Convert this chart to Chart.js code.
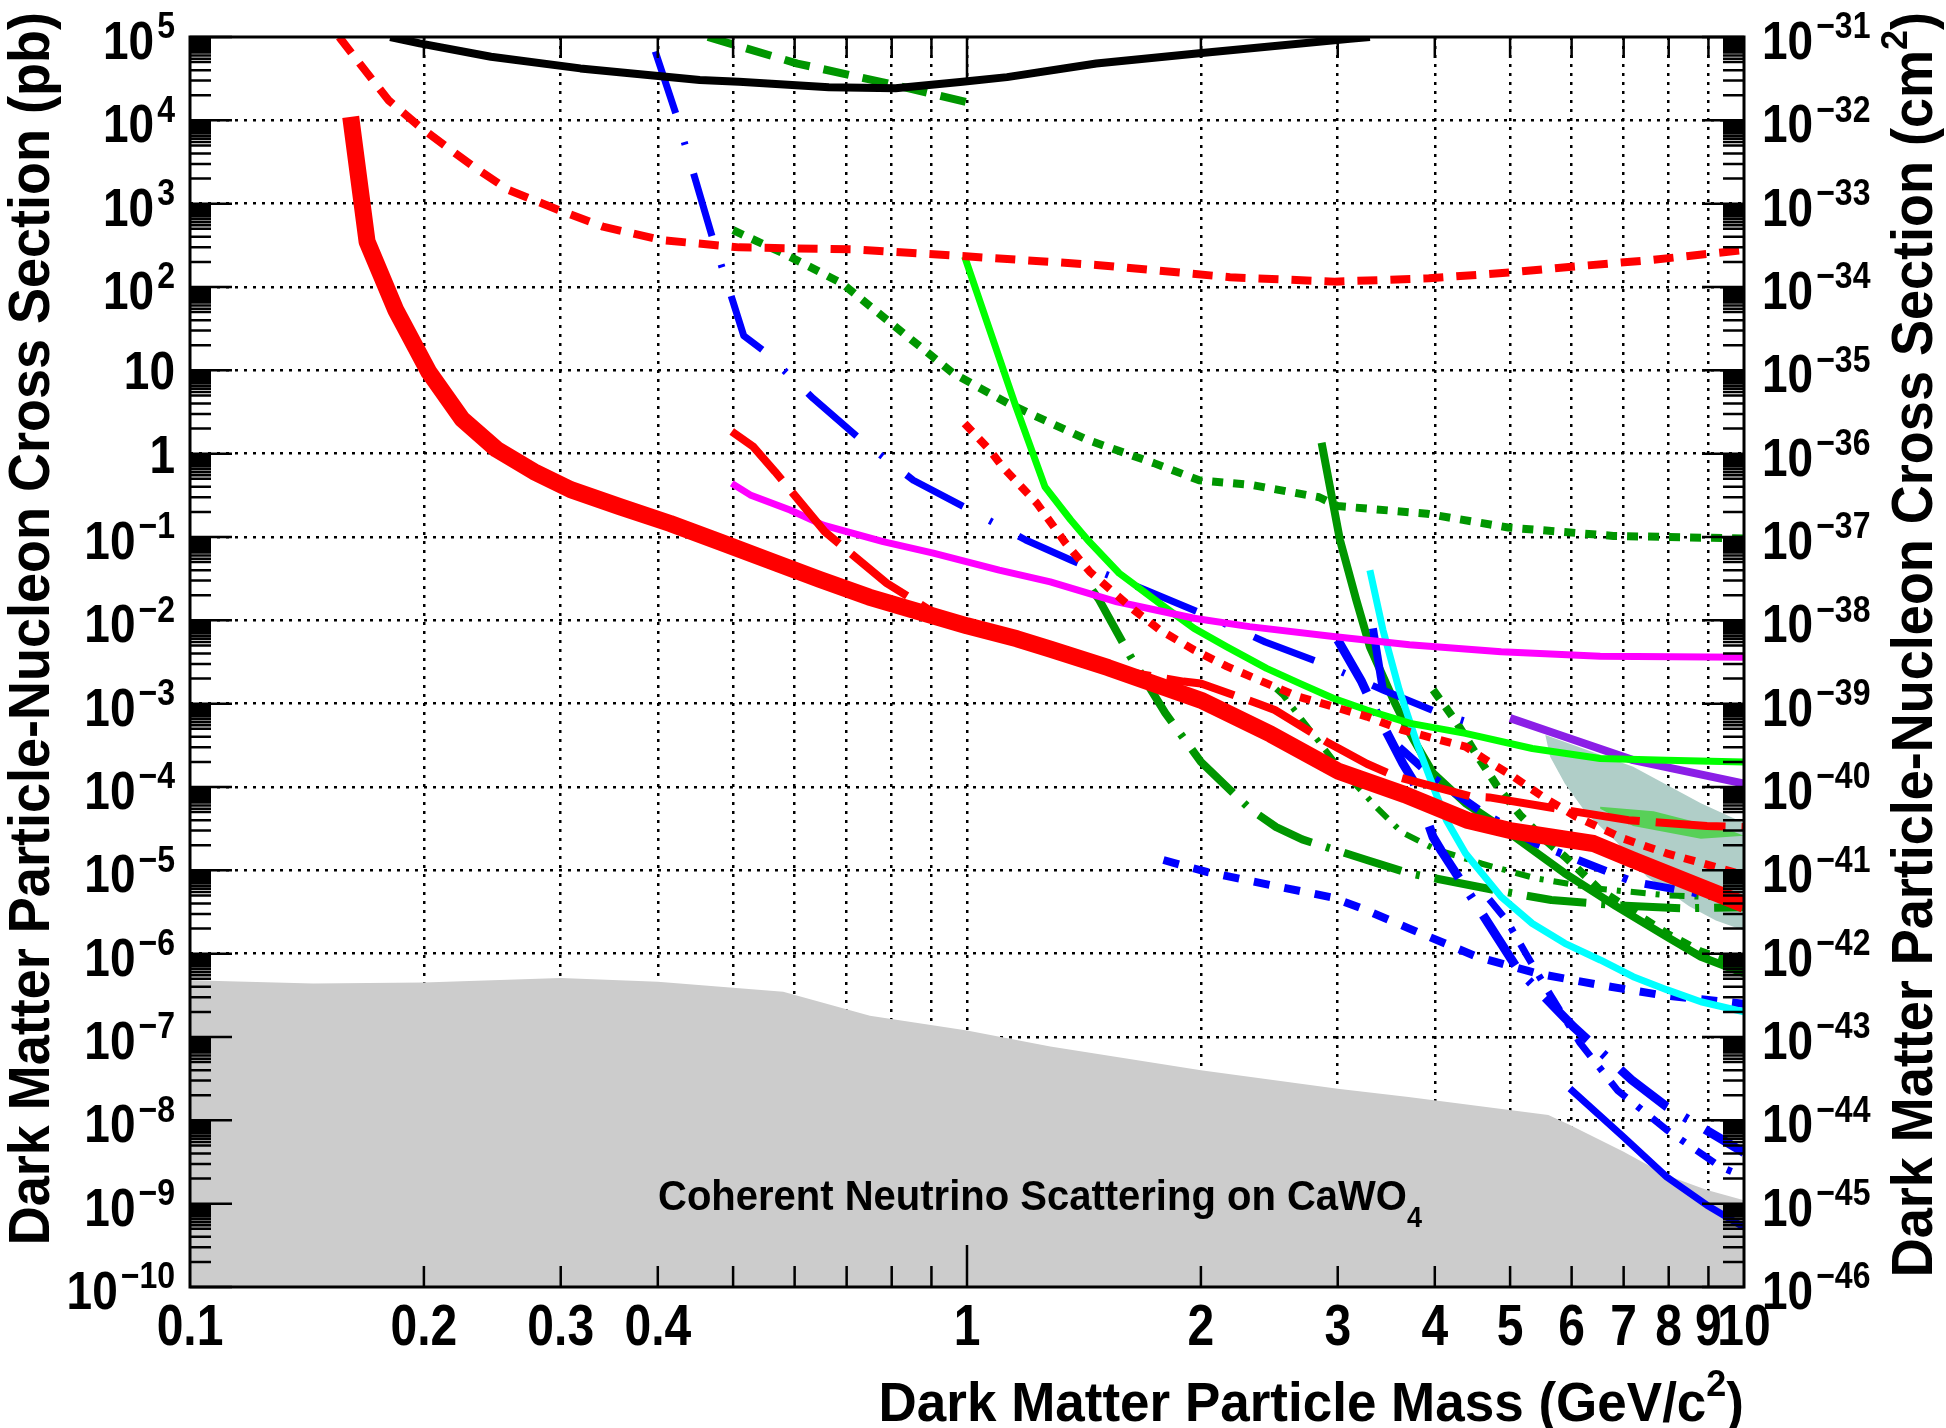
<!DOCTYPE html>
<html>
<head>
<meta charset="utf-8">
<title>Dark matter limits</title>
<script src="https://cdn.jsdelivr.net/npm/chart.js@4.4.1/dist/chart.umd.min.js"></script>
<style>
  html, body { margin: 0; padding: 0; background: #fff; }
  #wrap { width: 1946px; height: 1428px; }
</style>
</head>
<body>
<div id="wrap"><canvas id="chart" width="1946" height="1428"></canvas></div>
<script>
// axis ticks
const xLabelTicks = [0.1, 0.2, 0.3, 0.4, 1, 2, 3, 4, 5, 6, 7, 8, 9, 10];
const xGridLines = [0.2, 0.3, 0.4, 0.5, 0.6, 0.7, 0.8, 0.9, 1, 2, 3, 4, 5, 6, 7, 8, 9];
const yDecades = [-10, -9, -8, -7, -6, -5, -4, -3, -2, -1, 0, 1, 2, 3, 4, 5];
const yMinorSteps = [2, 3, 4, 5, 5.5, 6, 6.5, 7, 7.5, 8, 8.5, 9, 9.5];
const pbToCm2 = -36;

// curves: [mass GeV/c^2, cross section pb]
const thisResult = [[0.161,1.1e4],[0.169,350],[0.184,53],[0.203,9.5],[0.224,2.6],[0.248,1.13],[0.277,0.61],[0.309,0.37],[0.358,0.23],[0.415,0.145],[0.481,0.087],[0.557,0.052],[0.646,0.031],[0.748,0.019],[0.866,0.0127],[1.0,0.0086],[1.16,0.006],[1.28,0.0045],[1.52,0.0027],[2.0,0.0011],[2.46,4.3e-4],[3.0,1.56e-4],[3.66,8.1e-5],[4.4,4.0e-5],[5.0,3.0e-5],[6.4,2.1e-5],[7.2,1.33e-5],[10,3.9e-6]];
const redShortDash = [[0.1556,1e5],[0.164,5.3e4],[0.18,1.75e4],[0.1975,8.4e3],[0.214,4.8e3],[0.2315,2.8e3],[0.257,1.46e3],[0.298,840],[0.34,530],[0.404,366],[0.509,299],[0.709,283],[0.987,235],[1.467,184],[2.18,131],[2.97,116],[3.93,127],[4.98,149],[6.0,175],[7.61,211],[10,278]];
const blackTop = [[0.181,1e5],[0.1975,8.4e4],[0.244,5.8e4],[0.318,4.2e4],[0.453,3.05e4],[0.509,2.9e4],[0.664,2.5e4],[0.809,2.42e4],[0.987,2.9e4],[1.126,3.3e4],[1.467,4.8e4],[1.99,6.4e4],[3.11,9.5e4],[3.3,1.0e5]];
const greenDashTop = [[0.464,1e5],[0.605,4.8e4],[0.788,2.8e4],[1.0,1.65e4]];
const blueDashDotA = [[0.397,6.7e4],[0.422,1.2e4],[0.446,2.1e3],[0.47,400],[0.499,70],[0.516,26],[0.548,17],[0.634,4.6],[0.728,1.5],[0.853,0.48],[1.0,0.22],[1.19,0.092],[1.36,0.053],[1.41,0.046],[1.70,0.023],[2.01,0.012],[2.42,5.5e-3],[2.86,3.05e-3],[3.43,1.46e-3],[4.06,7.65e-4],[4.5,5.7e-4]];
const blueDashDotB = [[3.0,5.8e-3],[3.22,1.84e-3],[3.32,1.0e-3],[3.64,1.9e-4],[3.75,1.2e-4],[3.98,2.5e-5],[4.08,1.7e-5],[4.53,3.8e-6],[5.12,6.4e-7],[6.03,1.33e-7],[7.17,3.05e-8],[7.95,1.46e-8],[9.88,4.4e-9],[10,4.1e-9]];
const blueSolidShort = [[3.33,8.0e-3],[3.43,1.46e-3]];
const blueDashDotC = [[4.7,4.5e-6],[4.95,2.5e-6],[5.24,1.0e-6],[5.6,3.5e-7],[6.15,8.5e-8],[6.53,4.2e-8],[6.87,2.3e-8],[7.95,7.7e-9],[9.31,2.8e-9],[10,2.1e-9]];
const blueDashDotD = [[3.6,3e-4],[4.0,1.25e-4],[4.6,5e-5],[5.4,2.1e-5],[7.2,7.3e-6],[10,4.2e-6]];
const blueSolidLow = [[5.97,2.4e-8],[7.0,6.3e-9],[7.95,2.1e-9],[8.96,9.6e-10],[10,5.2e-10]];
const blueShortDash = [[1.79,1.33e-5],[2.04,9.5e-6],[2.45,6.7e-6],[2.96,4.7e-6],[3.22,3.5e-6],[3.71,2.0e-6],[4.53,9.2e-7],[5.41,5.8e-7],[6.53,4.2e-7],[7.8,3.2e-7],[10,2.5e-7]];
const cyanLine = [[3.30,0.040],[3.43,7.7e-3],[3.60,1.46e-3],[3.80,3.2e-4],[4.0,9e-5],[4.14,4.0e-5],[4.38,1.6e-5],[4.87,4.8e-6],[5.34,2.3e-6],[5.88,1.33e-6],[6.53,8.4e-7],[7.2,5.3e-7],[7.95,3.7e-7],[8.8,2.65e-7],[10,2.0e-7]];
const greenSolid = [[2.86,1.35],[3.02,0.092],[3.17,0.0175],[3.3,4.8e-3],[3.54,1.1e-3],[3.71,4.5e-4],[3.98,1.46e-4],[4.38,6.4e-5],[4.87,3.3e-5],[5.88,9.2e-6],[6.85,3.7e-6],[7.95,1.6e-6],[8.8,9.2e-7],[10,5.8e-7]];
const greenLongDash = [[1.45,0.023],[1.48,0.0175],[1.62,3.8e-3],[1.80,7.7e-4],[2.0,2.0e-4],[2.31,5.5e-5],[2.5,3.3e-5],[2.7,2.35e-5],[3.27,1.33e-5],[3.71,9.2e-6],[4.78,5.8e-6],[5.65,4.4e-6],[6.87,3.8e-6],[8.28,3.5e-6],[10,3.6e-6]];
const greenDotUpper = [[0.5,480],[0.58,254],[0.69,111],[0.81,33],[0.96,9.2],[1.13,4.0],[1.43,1.46],[1.74,0.77],[1.99,0.48],[2.33,0.42],[2.84,0.30],[3.0,0.235],[3.91,0.19],[4.97,0.13],[6.79,0.103],[10,0.096]];
const limeLine = [[0.993,231],[1.156,3.66],[1.26,0.40],[1.36,0.16],[1.43,0.092],[1.57,0.0367],[1.77,0.016],[1.96,8.0e-3],[2.16,4.8e-3],[2.43,2.65e-3],[2.68,1.75e-3],[2.96,1.16e-3],[3.27,8.4e-4],[3.72,5.8e-4],[4.38,4.4e-4],[5.34,2.9e-4],[6.53,2.2e-4],[7.95,2.1e-4],[10,2.0e-4]];
const magentaLine = [[0.498,0.44],[0.526,0.32],[0.592,0.211],[0.653,0.139],[0.78,0.088],[0.905,0.064],[1.10,0.040],[1.28,0.029],[1.56,0.0167],[1.96,0.0106],[2.31,8.4e-3],[2.96,6.4e-3],[3.71,5.1e-3],[4.87,4.2e-3],[6.53,3.7e-3],[10,3.6e-3]];
const redLongDash = [[0.498,1.84],[0.531,1.21],[0.566,0.61],[0.656,0.116],[0.788,0.028],[0.923,0.0111],[1.2,5.3e-3],[1.52,2.65e-3],[1.90,1.84e-3],[2.0,1.75e-3],[2.37,1.0e-3],[2.49,8.4e-4],[2.9,3.5e-4],[3.03,2.8e-4],[3.27,1.9e-4],[3.57,1.33e-4],[4.45,7.7e-5],[4.7,7.5e-5],[5.88,5.3e-5],[7.1,4.0e-5],[8.96,3.4e-5],[10,3.3e-5]];
const redDotted = [[0.993,2.3],[1.07,1.1],[1.11,0.70],[1.23,0.254],[1.34,0.084],[1.44,0.038],[1.64,0.0133],[1.77,7.7e-3],[1.96,4.4e-3],[2.16,2.8e-3],[2.43,1.75e-3],[2.68,1.2e-3],[2.96,9.2e-4],[3.27,7.0e-4],[3.64,4.8e-4],[4.38,3.05e-4],[4.70,2.0e-4],[5.05,1.33e-4],[5.55,7.3e-5],[6.08,4.4e-5],[7.0,2.4e-5],[7.95,1.6e-5],[10,8.8e-6]];
const greenDotLower = [[3.98,1.46e-3],[4.26,6.1e-4],[4.52,2.5e-4],[4.82,1.0e-4],[5.15,4.6e-5],[5.55,2.3e-5],[5.88,1.46e-5],[6.53,5.8e-6],[7.2,3.2e-6],[7.95,1.75e-6],[8.8,1.06e-6],[10,7.0e-7]];
const greenDashDot = [[2.5,1.5e-3],[2.55,1.27e-3],[2.96,2.1e-4],[3.36,5.8e-5],[3.62,2.9e-5],[4.0,1.8e-5],[4.6,1.2e-5],[5.4,8e-6],[6.5,6e-6],[8,5e-6],[10,4.6e-6]];
const purpleLine = [[5.0,6.7e-4],[5.88,4.0e-4],[7.2,2.1e-4],[10,1.1e-4]];
const tealBand = [[5.55,4.2e-4],[6.03,3.2e-4],[7.2,1.75e-4],[8.8,6.4e-5],[10,3.7e-5],[10,1.9e-6],[9.2,2.5e-6],[8.5,3.7e-6],[7.5,8.4e-6],[6.85,2.2e-5],[6.27,4.8e-5],[5.88,1.1e-4],[5.63,2.3e-4],[5.55,4.2e-4]];
const lightGreenBand = [[6.53,5.8e-5],[7.65,5.1e-5],[9.7,2.9e-5],[10,2.6e-5],[8.8,2.4e-5],[7.2,3.4e-5],[6.53,5.5e-5]];
const neutrinoFloor = [[0.1,4.8e-7],[0.144,4.4e-7],[0.2,4.5e-7],[0.3,5.1e-7],[0.4,4.6e-7],[0.58,3.5e-7],[0.75,1.8e-7],[1.0,1.2e-7],[1.28,7.7e-8],[2.0,4.0e-8],[3.0,2.4e-8],[3.7,1.9e-8],[5.6,1.16e-8],[5.97,8.8e-9],[7.0,4.2e-9],[7.95,2.2e-9],[8.96,1.46e-9],[10,1.1e-9]];

const FONT = '"Liberation Sans", Arial, Helvetica, sans-serif';

function xy(pts) { return pts.map(p => ({x: p[0], y: p[1]})); }

function line(pts, color, width, dash, order) {
  return {
    data: xy(pts), borderColor: color, borderWidth: width, borderDash: dash || [],
    fill: false, order: order, pointRadius: 0, borderJoinStyle: 'round'
  };
}

function area(pts, color, fill, order) {
  return {
    data: xy(pts), borderColor: 'rgba(0,0,0,0)', borderWidth: 0, backgroundColor: color,
    fill: fill, order: order, pointRadius: 0
  };
}

// text pieces drawn side by side; vs stretches glyphs vertically (ROOT fonts run tall)
function drawRich(c, parts, x, y, align, vs) {
  vs = vs || 1;
  let total = 0;
  parts.forEach(p => { c.font = 'bold ' + p.s + 'px ' + FONT; p.w = c.measureText(p.t).width + (p.gap || 0); total += p.w; });
  let cx = align === 'right' ? x - total : (align === 'center' ? x - total / 2 : x);
  c.textAlign = 'left';
  c.textBaseline = 'alphabetic';
  parts.forEach(p => {
    c.font = 'bold ' + p.s + 'px ' + FONT;
    c.save();
    c.translate(cx + (p.gap || 0), y + (p.dy || 0) * vs);
    c.scale(1, vs);
    c.fillText(p.t, 0, 0);
    c.restore();
    cx += p.w;
  });
}

function powParts(k) {
  if (k === 0) return [{t: '1', s: 46}];
  if (k === 1) return [{t: '10', s: 46}];
  return [{t: '10', s: 46}, {t: (k < 0 ? '\u2212' + (-k) : String(k)), s: 32, dy: -18, gap: 3}];
}

const rootFrame = {
  id: 'rootFrame',
  afterDraw(chart) {
    const c = chart.ctx, a = chart.chartArea;
    const sx = chart.scales.x, sy = chart.scales.y, sy2 = chart.scales.y2;
    c.save();
    c.fillStyle = '#000';
    drawRich(c, [{t: 'Coherent Neutrino Scattering on CaWO', s: 40}, {t: '4', s: 27, dy: 16}], 658, 1210, 'left', 1.08);

    // ticks
    c.strokeStyle = '#000';
    c.lineWidth = 2.5;
    c.beginPath();
    yDecades.forEach(k => {
      const Y = sy.getPixelForValue(Math.pow(10, k));
      c.moveTo(a.left, Y); c.lineTo(a.left + 42, Y);
      c.moveTo(a.right, Y); c.lineTo(a.right - 42, Y);
      if (k < 5) {
        yMinorSteps.forEach(n => {
          const Ym = sy.getPixelForValue(n * Math.pow(10, k));
          c.moveTo(a.left, Ym); c.lineTo(a.left + 21, Ym);
          c.moveTo(a.right, Ym); c.lineTo(a.right - 21, Ym);
        });
      }
    });
    xGridLines.forEach(v => {
      const X = sx.getPixelForValue(v);
      const len = v === 1 ? 42 : 21;
      c.moveTo(X, a.bottom); c.lineTo(X, a.bottom - len);
      c.moveTo(X, a.top); c.lineTo(X, a.top + len);
    });
    c.stroke();

    c.lineWidth = 3;
    c.strokeRect(a.left, a.top, a.right - a.left, a.bottom - a.top);

    // tick labels
    yDecades.forEach(k => {
      const Y = sy.getPixelForValue(Math.pow(10, k));
      const parts = powParts(k);
      drawRich(c, parts, a.left - 15, Y + (parts.length > 1 ? 22 : 19), 'right', 1.15);
      const Y2 = sy2.getPixelForValue(Math.pow(10, k + pbToCm2));
      drawRich(c, powParts(k + pbToCm2), a.right + 18, Y2 + 22, 'left', 1.15);
    });
    xLabelTicks.forEach(v => {
      const t = v < 1 ? v.toFixed(1) : String(v);
      drawRich(c, [{t: t, s: 48}], sx.getPixelForValue(v), 1345, 'center', 1.2);
    });

    // axis titles
    drawRich(c, [{t: 'Dark Matter Particle Mass (GeV/c', s: 53}, {t: '2', s: 36, dy: -24}, {t: ')', s: 53}], a.right, 1421, 'right', 1.05);
    c.save();
    c.translate(49, 12);
    c.rotate(-Math.PI / 2);
    drawRich(c, [{t: 'Dark Matter Particle-Nucleon Cross Section (pb)', s: 54}], 0, 0, 'right', 1.05);
    c.restore();
    c.save();
    c.translate(1932, 12);
    c.rotate(-Math.PI / 2);
    drawRich(c, [{t: 'Dark Matter Particle-Nucleon Cross Section (cm', s: 54}, {t: '2', s: 36, dy: -24}, {t: ')', s: 54}], 0, 0, 'right', 1.05);
    c.restore();
    c.restore();
  }
};

const RED = '#ff0000', BLUE = '#0000ff', DGREEN = '#009600';

const datasets = [
  line(thisResult, RED, 17, [], 1),
  line(redLongDash, RED, 8, [70, 16], 2),
  line(redDotted, RED, 8, [11, 10], 3),
  line(redShortDash, RED, 8, [20, 13], 3),
  line(blackTop, '#000000', 8, [], 3),
  line(greenDashTop, DGREEN, 8, [26, 14], 3),
  line(magentaLine, '#ff00ff', 7, [], 4),
  line(limeLine, '#00ff00', 7, [], 4),
  line(cyanLine, '#00ffff', 7, [], 4),
  line(purpleLine, '#8b1fe6', 8, [], 4),
  line(blueDashDotA, BLUE, 7, [65, 30, 3, 30], 5),
  line(blueDashDotB, BLUE, 9, [60, 20, 4, 20], 5),
  line(blueSolidShort, BLUE, 8, [], 5),
  line(blueDashDotC, BLUE, 7, [22, 14, 5, 14], 5),
  line(blueDashDotD, BLUE, 8, [30, 18, 5, 18], 5),
  line(blueSolidLow, BLUE, 7, [], 5),
  line(blueShortDash, BLUE, 8, [16, 15], 5),
  line(greenSolid, DGREEN, 8, [], 6),
  line(greenLongDash, DGREEN, 8, [60, 15, 4, 15], 6),
  line(greenDotUpper, DGREEN, 8, [11, 10], 6),
  line(greenDotLower, DGREEN, 8, [11, 10], 6),
  line(greenDashDot, DGREEN, 6, [15, 10, 4, 10], 6),
  area(lightGreenBand, '#58d058', 'shape', 18),
  area(tealBand, '#b0cec8', 'shape', 20),
  area(neutrinoFloor, '#cccccc', 'start', 30)
];

const gridOpts = { color: '#000000', lineWidth: 2.5, drawTicks: false };

new Chart(document.getElementById('chart').getContext('2d'), {
  type: 'line',
  data: { datasets: datasets },
  plugins: [rootFrame],
  options: {
    responsive: false,
    animation: false,
    events: [],
    layout: { padding: { top: 37, left: 0, right: 0, bottom: 0 } },
    elements: { point: { radius: 0 }, line: { tension: 0 } },
    plugins: { legend: { display: false }, tooltip: { enabled: false } },
    scales: {
      x: {
        type: 'logarithmic', position: 'bottom', min: 0.1, max: 10,
        ticks: { display: false },
        grid: gridOpts,
        border: { display: false, dash: [3, 6] },
        afterBuildTicks: s => { s.ticks = xGridLines.map(v => ({ value: v })); },
        afterFit: s => { s.height = 141; }
      },
      y: {
        type: 'logarithmic', position: 'left', min: 1e-10, max: 1e5,
        ticks: { display: false },
        grid: gridOpts,
        border: { display: false, dash: [3, 6] },
        afterBuildTicks: s => { s.ticks = yDecades.filter(k => k > -10 && k < 5).map(k => ({ value: Math.pow(10, k) })); },
        afterFit: s => { s.width = 190; }
      },
      y2: {
        type: 'logarithmic', position: 'right', min: 1e-46, max: 1e-31,
        ticks: { display: false },
        grid: { display: false },
        border: { display: false },
        afterFit: s => { s.width = 202; }
      }
    }
  }
});
</script>
</body>
</html>
